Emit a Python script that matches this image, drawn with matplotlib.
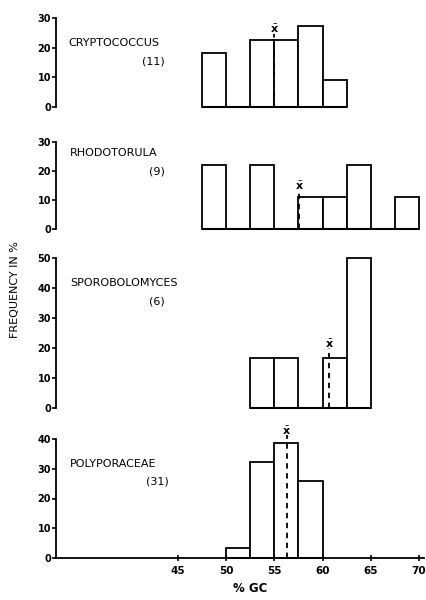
import numpy as np
import matplotlib
matplotlib.use("Agg")
import matplotlib.pyplot as plt

# bin edges are 2.5 % GC wide; each list gives left edges and frequencies (%)
crypto_bins = [47.5, 50.0, 52.5, 55.0, 57.5, 60.0]
crypto_freq = [18.2, 0.0, 22.7, 22.7, 27.3, 9.1]
crypto_mean = 55.0

rhodo_bins = [47.5, 50.0, 52.5, 55.0, 57.5, 60.0, 62.5, 65.0, 67.5]
rhodo_freq = [22.2, 0.0, 22.2, 0.0, 11.1, 11.1, 22.2, 0.0, 11.1]
rhodo_mean = 57.6

sporo_bins = [52.5, 55.0, 57.5, 60.0, 62.5]
sporo_freq = [16.7, 16.7, 0.0, 16.7, 50.0]
sporo_mean = 60.7

poly_bins = [50.0, 52.5, 55.0, 57.5]
poly_freq = [3.2, 32.3, 38.7, 25.8]
poly_mean = 56.3

names = ["CRYPTOCOCCUS", "RHODOTORULA", "SPOROBOLOMYCES", "POLYPORACEAE"]
counts = ["(11)", "(9)", "(6)", "(31)"]
ymax = [30, 30, 50, 40]
xticks = [45, 50, 55, 60, 65, 70]

BIN_W = 2.5
W, H = 427, 600

fig = plt.figure(figsize=(W / 100, H / 100), dpi=100)

# axes boxes in pixels: (y of zero line, y of top tick)
boxes = [(107, 18), (229, 142), (408, 258), (558, 439)]
x_left, x_right = 56, 424
xlim = (32.36, 70.52)

# label positions in pixels: (name x, name y, count x, count y)
label_pos = [(68, 43, 153, 62), (70, 153, 157, 172),
             (70, 283, 157, 301), (70, 464, 157, 482)]

data = [(crypto_bins, crypto_freq, crypto_mean),
        (rhodo_bins, rhodo_freq, rhodo_mean),
        (sporo_bins, sporo_freq, sporo_mean),
        (poly_bins, poly_freq, poly_mean)]

for i, (bins, freq, mean) in enumerate(data):
    y0, y1 = boxes[i]
    ax = fig.add_axes([x_left / W, 1 - y0 / H, (x_right - x_left) / W, (y0 - y1) / H])
    ax.set_xlim(*xlim)
    ax.set_ylim(0, ymax[i])
    ax.patch.set_alpha(0)

    bins = np.array(bins)
    freq = np.array(freq)
    keep = freq > 0
    ax.bar(bins[keep], freq[keep], width=BIN_W, align="edge",
           facecolor="white", edgecolor="black", linewidth=1.3, clip_on=False)
    if i < 3:
        ax.hlines(0, bins.min(), bins.max() + BIN_W, color="black", lw=1.5, clip_on=False)

    # mean line
    idx = np.searchsorted(bins, mean, side="right") - 1
    top = freq[idx] + 2.0 * ymax[i] / 30
    ax.vlines(mean, 0, top, colors="black", linestyles=(0, (3, 2.5)), lw=1.3, clip_on=False)
    ax.text(mean, top - 0.5 * ymax[i] / 30, r"$\bar{\mathbf{x}}$", ha="center", va="bottom",
            fontsize=8, clip_on=False)

    for s in ["top", "right"]:
        ax.spines[s].set_visible(False)
    ax.spines["left"].set_linewidth(1.3)
    ax.set_yticks(np.arange(0, ymax[i] + 1, 10))
    ax.tick_params(axis="y", direction="out", length=3, width=1.2, pad=0.5,
                   labelsize=7)
    for lab in ax.get_yticklabels():
        lab.set_fontweight("bold")

    if i < 3:
        ax.spines["bottom"].set_visible(False)
        ax.set_xticks([])
    else:
        ax.spines["bottom"].set_linewidth(1.3)
        ax.set_xticks(xticks)
        ax.tick_params(axis="x", direction="inout", length=4, width=1.2, pad=4,
                       labelsize=7.5)
        for lab in ax.get_xticklabels():
            lab.set_fontweight("bold")
        ax.set_xlabel("% GC", fontsize=8.5, fontweight="bold")
        ax.xaxis.set_label_coords((250 - x_left) / (x_right - x_left), -0.2)

    nx, ny, cx, cy = label_pos[i]
    fig.text(nx / W, 1 - ny / H, names[i], ha="left", va="center", fontsize=8)
    fig.text(cx / W, 1 - cy / H, counts[i], ha="center", va="center", fontsize=8)

fig.text(15 / W, 1 - 290 / H, "FREQUENCY IN %", rotation=90, ha="center", va="center",
         fontsize=8)

fig.savefig("out.png", dpi=100)
